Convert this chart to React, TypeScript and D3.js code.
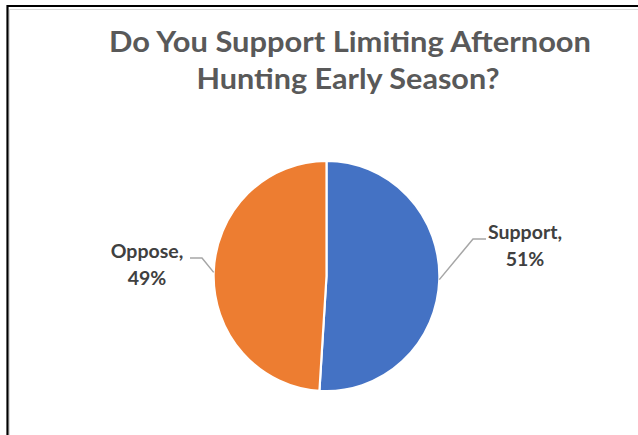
import React from "react";
import * as d3 from "d3";

const categories: string[] = ["Support", "Oppose"];
const values: number[] = [51, 49];
const colors: string[] = ["#4472C4", "#ED7D31"];
const titleLines: string[] = ["Do You Support Limiting Afternoon", "Hunting Early Season?"];

const W = 638;
const H = 435;
const cx = 326.5;
const cy = 276;
const r = 114;

export default function App() {
  const pie = d3.pie<number>().sort(null).value((d) => d);
  const arcs = pie(values);
  const arcGen = d3.arc<d3.PieArcDatum<number>>().innerRadius(0).outerRadius(r);

  const labelLayout = [
    { x: 525, y: 239, elbowX: 473, edgeX: 486 },
    { x: 147, y: 258, elbowX: 202, edgeX: 190 },
  ];

  return (
    <svg
      width={W}
      height={H}
      style={{ position: "fixed", left: 0, top: 0, background: "#fff" }}
    >
      <rect x={0} y={0} width={W} height={H} fill="#fff" />
      <line x1={7} y1={6} x2={W} y2={6} stroke="#000" strokeWidth={2.2} />
      <line x1={7.5} y1={5} x2={7.5} y2={H} stroke="#000" strokeWidth={2.2} />
      <line x1={9.5} y1={9.5} x2={W} y2={9.5} stroke="#d9d9d9" strokeWidth={1} />
      <line x1={9.5} y1={9.5} x2={9.5} y2={H} stroke="#d9d9d9" strokeWidth={1} />

      <g fontFamily="Lato, 'Open Sans', sans-serif" fontWeight={700} fill="#595959" textAnchor="middle">
        <text x={350} y={52} fontSize={29} textLength={482} lengthAdjust="spacingAndGlyphs">
          {titleLines[0]}
        </text>
        <text x={348} y={88.5} fontSize={29} textLength={303} lengthAdjust="spacingAndGlyphs">
          {titleLines[1]}
        </text>
      </g>

      <g transform={`translate(${cx},${cy}) scale(0.99,1.01)`}>
        {arcs.map((a, i) => (
          <path key={categories[i]} d={arcGen(a) || ""} fill={colors[i]} stroke="#fff" strokeWidth={2.2} strokeLinejoin="round" />
        ))}
      </g>

      {arcs.map((a, i) => {
        const mid = (a.startAngle + a.endAngle) / 2;
        const ex = cx + Math.sin(mid) * r * 0.99;
        const ey = cy - Math.cos(mid) * r * 1.01;
        const L = labelLayout[i];
        return (
          <polyline
            key={"l" + i}
            points={`${L.edgeX},${L.y} ${L.elbowX},${L.y} ${ex},${ey}`}
            fill="none"
            stroke="#a6a6a6"
            strokeWidth={1.5}
          />
        );
      })}

      <g fontFamily="Lato, 'Open Sans', sans-serif" fontWeight={700} fill="#404040" textAnchor="middle" fontSize={19.5}>
        {arcs.map((a, i) => {
          const L = labelLayout[i];
          return (
            <text key={"t" + i} x={L.x} y={L.y}>
              <tspan x={L.x} dy={0}>{categories[i] + ","}</tspan>
              <tspan x={L.x} dy={27}>{d3.format(".0%")(a.data / d3.sum(values))}</tspan>
            </text>
          );
        })}
      </g>
    </svg>
  );
}
